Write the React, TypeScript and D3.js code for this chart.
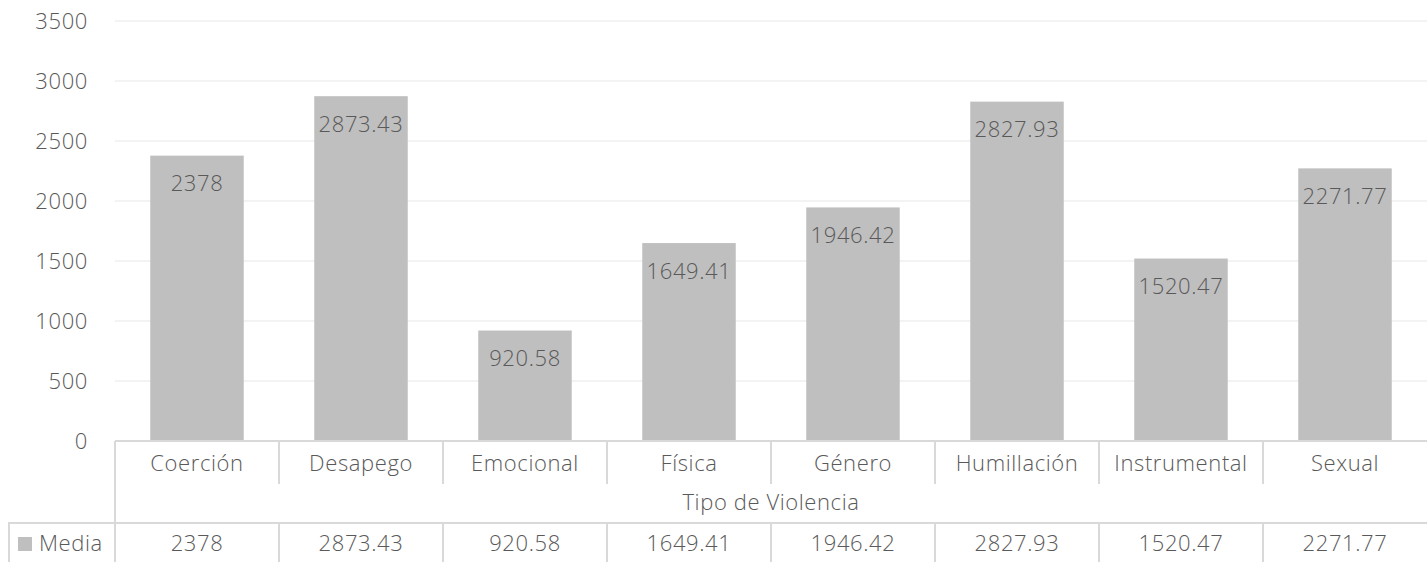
import React from "react";
import * as d3 from "d3";

const categories: string[] = [
  "Coerción",
  "Desapego",
  "Emocional",
  "Física",
  "Género",
  "Humillación",
  "Instrumental",
  "Sexual",
];
const media: number[] = [2378, 2873.43, 920.58, 1649.41, 1946.42, 2827.93, 1520.47, 2271.77];
const mediaLabels: string[] = ["2378", "2873.43", "920.58", "1649.41", "1946.42", "2827.93", "1520.47", "2271.77"];
const yTicks: number[] = [0, 500, 1000, 1500, 2000, 2500, 3000, 3500];
const seriesName = "Media";
const axisTitle = "Tipo de Violencia";

const W = 1427,
  H = 562;
const plot = { left: 115, right: 1427, top: 21, bottom: 441 };
const font = "'Open Sans', 'Segoe UI', sans-serif";
const textColor = "#595959";
const lineColor = "#D9D9D9";
const fs = 22;
const ls = 0.6;

export default function App(): JSX.Element {
  const x = d3.scaleBand<string>().domain(categories).range([plot.left, plot.right]).paddingInner(0.43).paddingOuter(0.215);
  const cell = d3.scaleBand<string>().domain(categories).range([plot.left, plot.right]);
  const y = d3.scaleLinear().domain([0, 3500]).range([plot.bottom, plot.top]);

  const catRowBottom = 484;
  const titleRowBottom = 523;

  return (
    <svg width={W} height={H} style={{ position: "absolute", left: 0, top: 0 }} fontFamily={font} fontWeight={300} letterSpacing={ls}>
      <rect width={W} height={H} fill="#fff" />
      {yTicks.map((t) => (
        <g key={t}>
          {t > 0 && <line x1={plot.left} x2={plot.right} y1={y(t)} y2={y(t)} stroke="#EFEFEF" strokeWidth={1.5} />}
          <text x={88} y={y(t)} dy="0.35em" textAnchor="end" fontSize={fs} fill={textColor}>
            {t}
          </text>
        </g>
      ))}
      {categories.map((c, i) => (
        <g key={c}>
          <rect x={x(c)} y={y(media[i])} width={x.bandwidth()} height={plot.bottom - y(media[i])} fill="#BFBFBF" />
          <text x={(x(c) as number) + x.bandwidth() / 2} y={y(media[i]) + 28} dy="0.35em" textAnchor="middle" fontSize={fs} fill={textColor}>
            {mediaLabels[i]}
          </text>
        </g>
      ))}
      {/* data table */}
      <line x1={plot.left} x2={plot.right} y1={plot.bottom} y2={plot.bottom} stroke={lineColor} strokeWidth={2} />
      <line x1={plot.left} x2={plot.left} y1={plot.bottom} y2={H} stroke={lineColor} strokeWidth={2} />
      <line x1={8} x2={plot.right} y1={titleRowBottom} y2={titleRowBottom} stroke={lineColor} strokeWidth={2} />
      <line x1={9} x2={9} y1={titleRowBottom} y2={H} stroke={lineColor} strokeWidth={2} />
      {categories.map((c, i) => {
        const cx = (cell(c) as number) + cell.bandwidth() / 2;
        const right = (cell(c) as number) + cell.bandwidth();
        return (
          <g key={"t" + c}>
            <text x={cx} y={463} dy="0.35em" textAnchor="middle" fontSize={fs} fill={textColor}>
              {c}
            </text>
            <text x={cx} y={543} dy="0.35em" textAnchor="middle" fontSize={fs} fill={textColor}>
              {mediaLabels[i]}
            </text>
            {i < categories.length - 1 && (
              <>
                <line x1={right} x2={right} y1={plot.bottom} y2={catRowBottom} stroke={lineColor} strokeWidth={2} />
                <line x1={right} x2={right} y1={titleRowBottom} y2={H} stroke={lineColor} strokeWidth={2} />
              </>
            )}
          </g>
        );
      })}
      <text x={(plot.left + plot.right) / 2} y={502} dy="0.35em" textAnchor="middle" fontSize={fs} fill={textColor}>
        {axisTitle}
      </text>
      <rect x={18} y={537} width={14} height={14} fill="#BFBFBF" />
      <text x={39} y={543} dy="0.35em" fontSize={fs} fill={textColor}>
        {seriesName}
      </text>
    </svg>
  );
}
